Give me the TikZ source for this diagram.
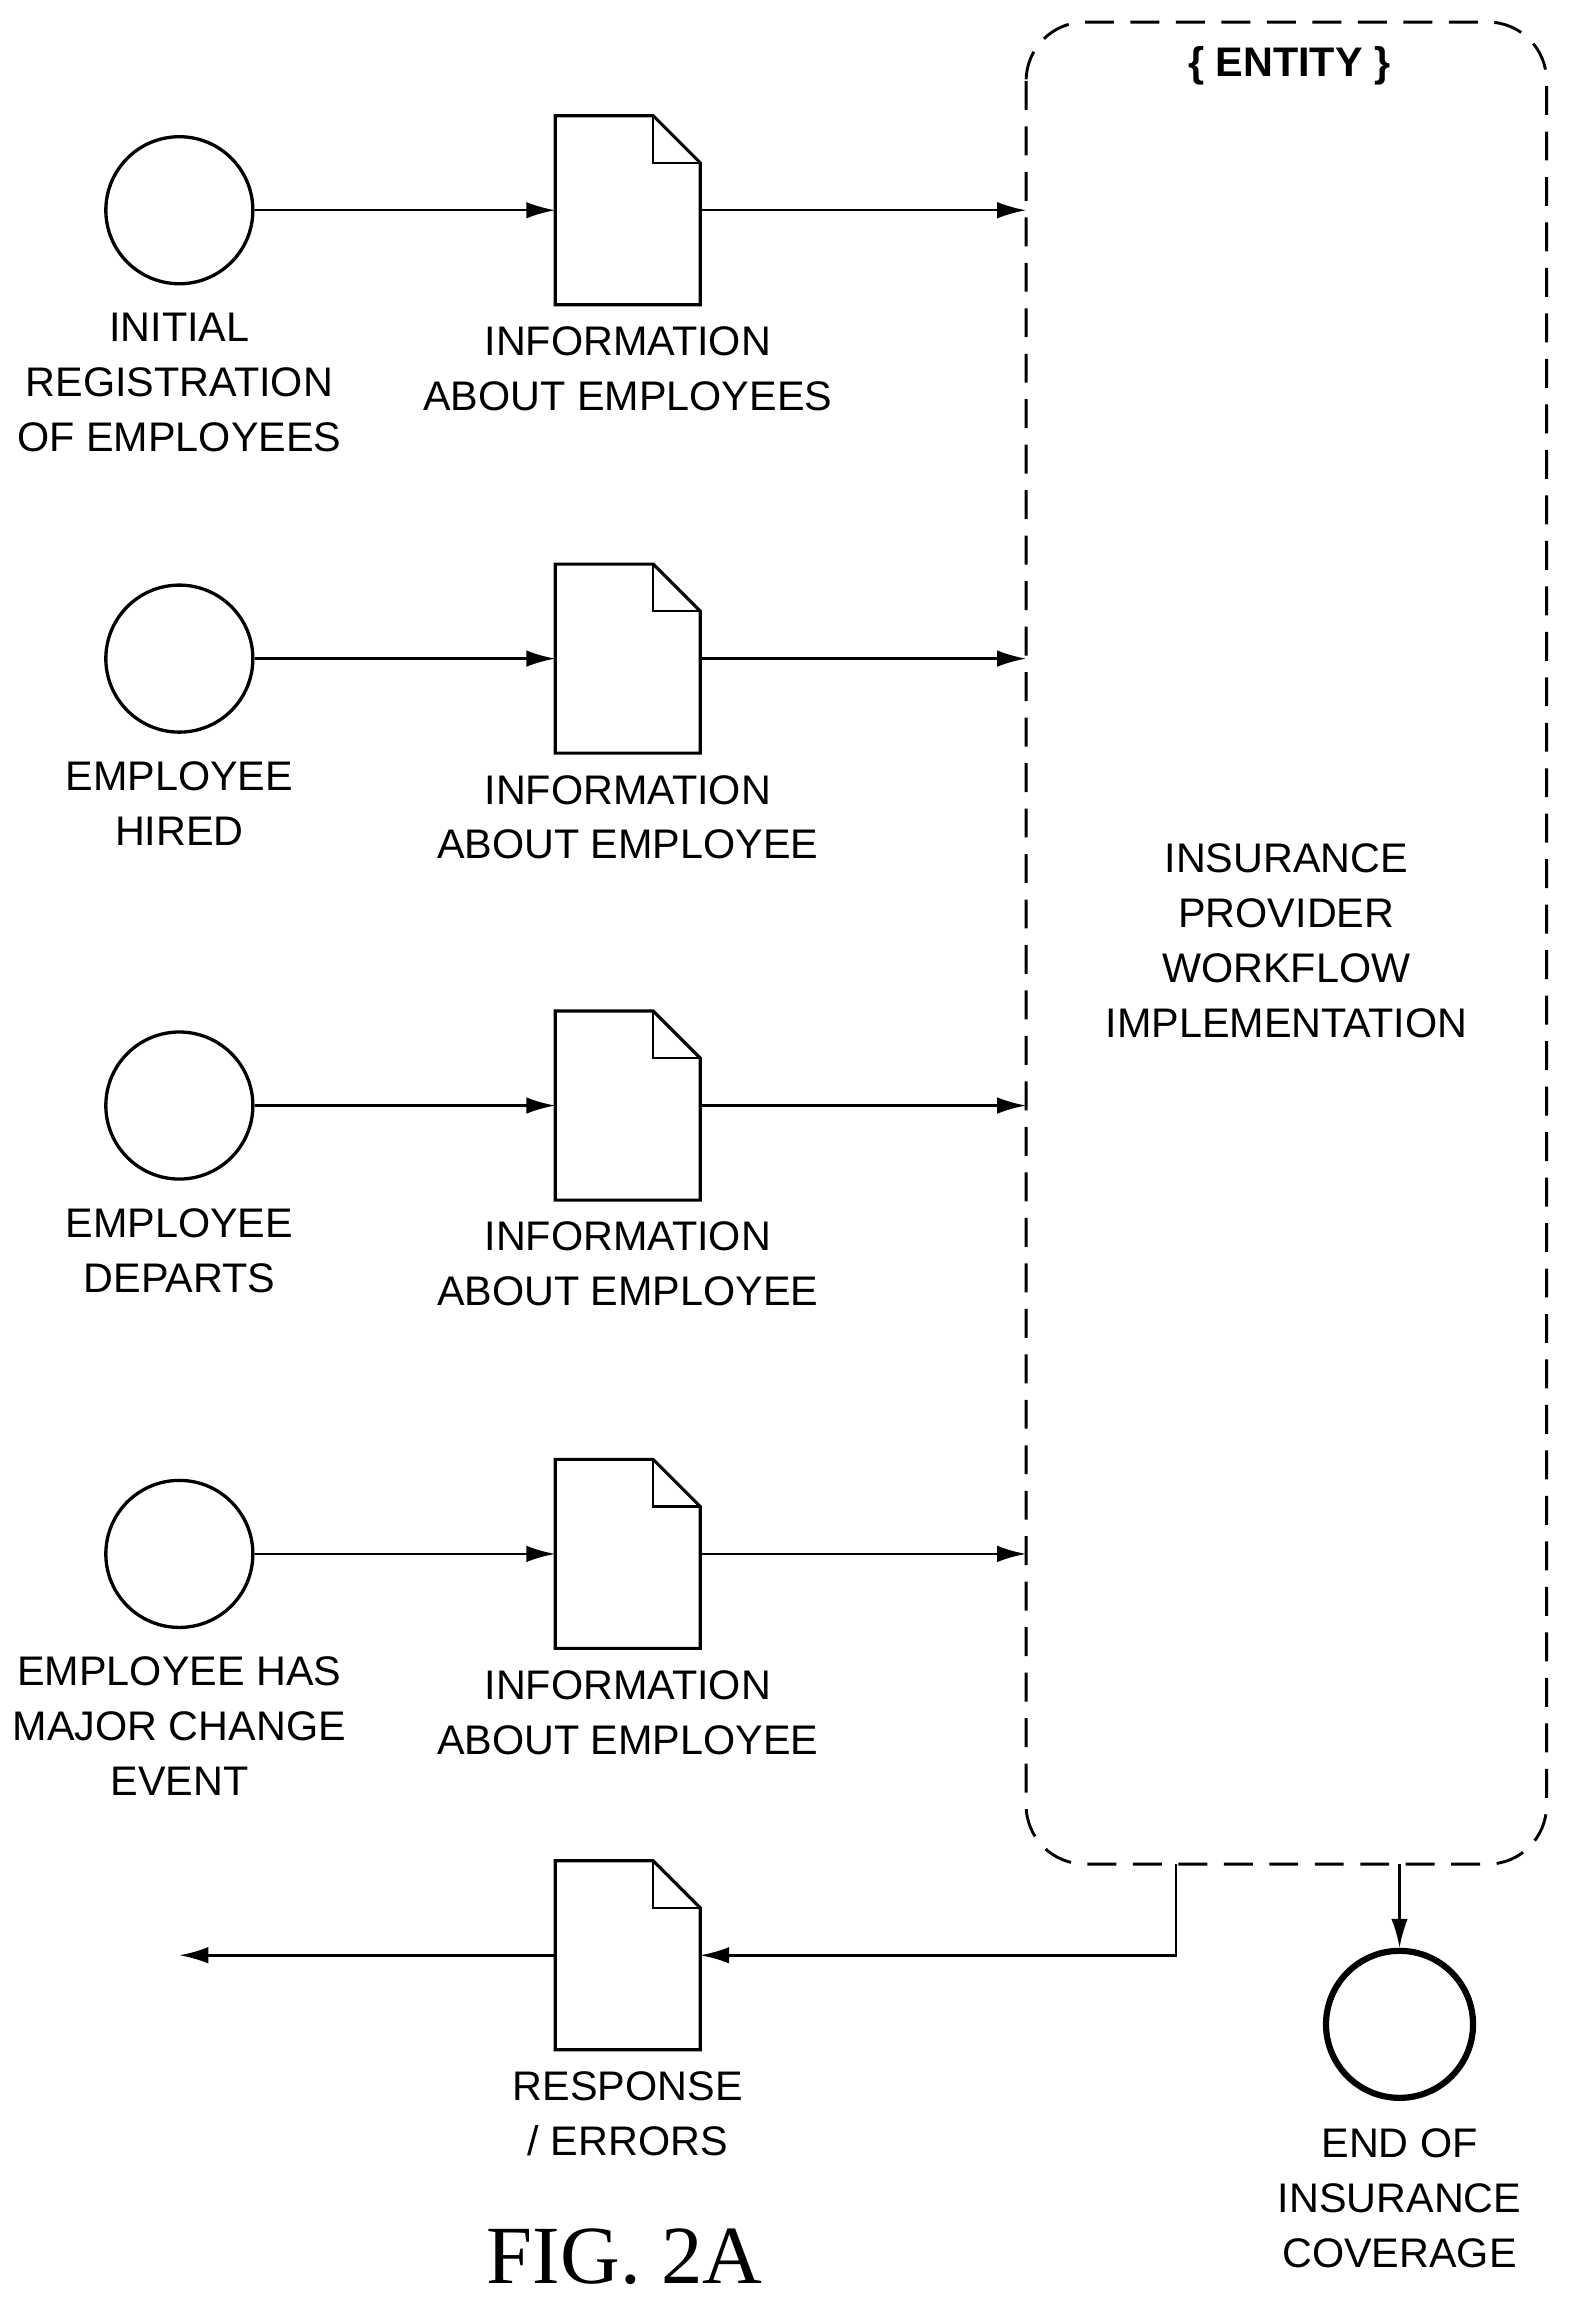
\documentclass[tikz,border=0pt]{standalone}
\usepackage{fontspec}
\setmainfont{Liberation Sans}
\newfontfamily\figfont{Liberation Serif}
\usetikzlibrary{arrows.meta}
\usetikzlibrary{positioning}
\tikzset{
  event/.style={draw,circle,line width=1.6pt,minimum size=2.5cm,inner sep=0pt},
  doc/.style={draw=none,minimum width=2.45cm,minimum height=3.2cm,inner sep=0pt},
  lbl/.style={align=center,font=\fontsize{20}{26.5}\selectfont},
  flow/.style={line width=1.2pt,-{Latex[length=14pt,width=8pt]}}
}
\newcommand{\docshape}[1]{%
  \draw[line width=1.5pt] (#1.north west) -- ([xshift=-0.8cm]#1.north east)
    -- ([yshift=-0.8cm]#1.north east) -- (#1.south east) -- (#1.south west) -- cycle;
  \draw[line width=1.2pt] ([xshift=-0.8cm]#1.north east) |- ([yshift=-0.8cm]#1.north east);
}
\begin{document}
\begin{tikzpicture}[x=0.025cm,y=-0.025cm]
  \useasboundingbox (0,0) rectangle (1070,1572);

  % entity box
  \draw[line width=1.4pt,dash pattern=on 14pt off 8pt,rounded corners=1cm]
    (698,15) rectangle (1052,1268);
  \node[font=\fontsize{20}{24}\selectfont\bfseries] (entity) at (877,45) {\{ ENTITY \}};
  \node[lbl] (workflow) at (875,640) {INSURANCE\\PROVIDER\\WORKFLOW\\IMPLEMENTATION};
  \coordinate (boxL1) at (698,143);
  \coordinate (boxL2) at (698,448);
  \coordinate (boxL3) at (698,752);
  \coordinate (boxL4) at (698,1057);
  \coordinate (boxB1) at (800,1268);
  \coordinate (boxB2) at (952,1268);

  % inputs
  \foreach \i/\y/\txt/\info in {
      1/143/{INITIAL\\REGISTRATION\\OF EMPLOYEES}/{INFORMATION\\ABOUT EMPLOYEES},
      2/448/{EMPLOYEE\\HIRED}/{INFORMATION\\ABOUT EMPLOYEE},
      3/752/{EMPLOYEE\\DEPARTS}/{INFORMATION\\ABOUT EMPLOYEE},
      4/1057/{EMPLOYEE HAS\\MAJOR CHANGE\\EVENT}/{INFORMATION\\ABOUT EMPLOYEE}}{%
    \node[event] (ev\i) at (122,\y) {};
    \node[lbl,below=0.35cm of ev\i] (evlbl\i) {\txt};
    \node[doc] (info\i) at (427,\y) {};
    \docshape{info\i}
    \node[lbl,below=0.25cm of info\i] (infolbl\i) {\info};
    \draw[flow] (ev\i) -- (info\i);
    \draw[flow] (info\i) -- (boxL\i);
  }

  % outputs
  \node[doc] (resp) at (427,1330) {};
  \docshape{resp}
  \node[lbl,below=0.25cm of resp] (resplbl) {RESPONSE\\/ ERRORS};
  \coordinate (respout) at (122,1330);
  \draw[flow] (boxB1) |- (resp);
  \draw[flow] (resp) -- (respout);

  \node[event,line width=3pt] (endcov) at (952,1377) {};
  \node[lbl,below=0.35cm of endcov] (endlbl) {END OF\\INSURANCE\\COVERAGE};
  \draw[flow] (boxB2) -- (endcov);

  \node[font=\figfont\fontsize{40}{44}\selectfont] (fig) at (425,1535) {FIG. 2A};
\end{tikzpicture}
\end{document}
